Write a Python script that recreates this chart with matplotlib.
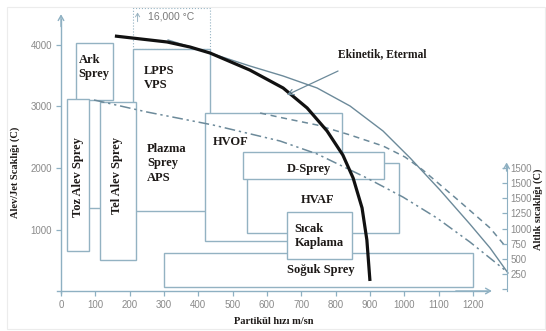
import matplotlib.pyplot as plt
from matplotlib.patches import Rectangle

# process windows: particle velocity range (m/sn) and flame/jet temperature range (C)
procs = ["plazma_ust", "plazma", "ark", "toz", "tel", "hvof", "hvaf", "dsprey", "soguk", "sicak"]
vel_lo = [210, 210, 45, 17, 114, 420, 543, 531, 301, 657]
vel_hi = [434, 434, 151, 82, 218, 819, 985, 941, 1201, 849]
temp_lo = [3935, 1300, 3100, 655, 504, 813, 943, 1816, 60, 515]
temp_hi = [4597, 3935, 4033, 3117, 3078, 2889, 2076, 2255, 613, 1289]

# curves
thick_v = [157, 309, 376, 434, 550, 647, 717, 775, 821, 851, 877, 891, 900]
thick_t = [4146, 4049, 3967, 3870, 3593, 3301, 2976, 2602, 2211, 1837, 1350, 829, 163]
ener_v = [312, 434, 550, 647, 746, 842, 938, 1017, 1104, 1191, 1250, 1302]
ener_t = [4081, 3870, 3659, 3496, 3301, 3008, 2602, 2163, 1642, 1089, 699, 293]
dash_v = [580, 647, 746, 842, 938, 1002, 1054, 1153, 1250, 1296]
dash_t = [2894, 2813, 2699, 2537, 2358, 2179, 1967, 1496, 1024, 715]
dd_v = [96, 250, 443, 638, 746, 891, 996, 1095, 1191, 1293]
dd_t = [3106, 2911, 2699, 2439, 2228, 1837, 1528, 1187, 797, 341]

x_ticks = list(range(0, 1300, 100))
y_ticks = [1000, 2000, 3000, 4000]
sub_ticks = [0, 250, 500, 750, 1000, 1250, 1500, 1750, 2000]
sub_labels = ["", "250", "500", "750", "1000", "1250", "1500", "1500", "1500"]

axis_col = "#8eb0c2"
box_col = "#93b2c2"
line_col = "#6c8a9a"
tick_col = "#8a8a8a"
txt_col = "#1e1a18"
serif = "Liberation Serif"
sans = "Liberation Sans"

fig = plt.figure(figsize=(5.46, 3.31), dpi=100)
ax = fig.add_axes([0, 0, 1, 1])
ax.set_xlim(-177.7, 1412.8)
ax.set_ylim(-650.4, 4731.7)
ax.patch.set_alpha(0)

# faint image frame
fig.patches.append(Rectangle((7 / 546, 2 / 331), 538 / 546, 322 / 331, transform=fig.transFigure,
                             fill=False, ec="#ececec", lw=0.8))

for s in ["top", "right"]:
    ax.spines[s].set_visible(False)
ax.spines["left"].set_position(("data", 0))
ax.spines["bottom"].set_position(("data", 0))
ax.spines["left"].set_bounds(-40, 4420)
ax.spines["bottom"].set_bounds(-12, 1240)
for s in ["left", "bottom"]:
    ax.spines[s].set_color(axis_col)
    ax.spines[s].set_linewidth(1.0)
ax.set_xticks(x_ticks)
ax.set_yticks(y_ticks)
ax.tick_params(direction="out", length=3.5, width=0.9, color=axis_col,
               labelcolor=tick_col, labelsize=7, pad=3)
for lab in ax.get_xticklabels() + ax.get_yticklabels():
    lab.set_family(sans)

arrow = dict(arrowstyle="->,head_length=0.35,head_width=0.2", color=axis_col, lw=1.0, shrinkA=0, shrinkB=0)
ax.annotate("", xy=(0, 4500), xytext=(0, 4300), arrowprops=arrow)
ax.annotate("", xy=(1255, 0), xytext=(1150, 0), arrowprops=arrow)
ax.annotate("", xy=(1298, 2090), xytext=(1298, 1950), arrowprops=arrow)

# substrate temperature axis on the right
ax2 = ax.twinx()
ax2.set_ylim(-694, 4777)
for s in ["top", "left", "bottom"]:
    ax2.spines[s].set_visible(False)
ax2.spines["right"].set_position(("data", 1298))
ax2.spines["right"].set_bounds(-40, 2050)
ax2.spines["right"].set_color(axis_col)
ax2.set_yticks(sub_ticks)
ax2.set_yticklabels(sub_labels, family=sans)
ax2.tick_params(direction="in", length=3.5, width=0.9, color=axis_col,
                labelcolor=tick_col, labelsize=7, pad=3)
ax2.patch.set_alpha(0)

# process boxes
for i, name in enumerate(procs):
    dotted = name == "plazma_ust"
    ax.add_patch(Rectangle((vel_lo[i], temp_lo[i]), vel_hi[i] - vel_lo[i], temp_hi[i] - temp_lo[i],
                           fc="white" if not dotted else "none", ec=box_col,
                           lw=0.8 if dotted else 1.0, ls=":" if dotted else "-", zorder=2 + i * 0.1))

# small connector between the two flame spray boxes
ax.plot([82, 114], [1345, 1345], color=box_col, lw=1.0, zorder=1.9)

# curves
ax.plot(ener_v, ener_t, color=line_col, lw=1.0, zorder=4, solid_joinstyle="round")
ax.plot(dash_v, dash_t, color=line_col, lw=1.1, ls=(0, (4, 3)), zorder=4)
ax.plot(dd_v, dd_t, color=line_col, lw=1.1, ls=(0, (7, 2.5, 1.5, 2.5, 1.5, 2.5)), zorder=4)
ax.plot(thick_v, thick_t, color="#111111", lw=2.3, solid_capstyle="butt",
        solid_joinstyle="round", zorder=5)

# labels
bold = dict(family=serif, fontweight="bold", color=txt_col, fontsize=9, zorder=6)
ax.text(51, 3647, "Ark\nSprey", ha="left", va="center", linespacing=1.25, **bold)
ax.text(240, 3463, "LPPS\nVPS", ha="left", va="center", linespacing=1.2, **bold)
ax.text(250, 2076, "Plazma\nSprey\nAPS", ha="left", va="center", linespacing=1.25, **bold)
ax.text(49, 1850, "Toz Alev Sprey", ha="center", va="center", rotation=90, **bold)
ax.text(163, 1886, "Tel Alev Sprey", ha="center", va="center", rotation=90, **bold)
ax.text(443, 2423, "HVOF", ha="left", va="center", **bold)
ax.text(723, 1979, "D-Sprey", ha="center", va="center", **bold)
ax.text(747, 1480, "HVAF", ha="center", va="center", **bold)
ax.text(680, 894, "Sıcak\nKaplama", ha="left", va="center", linespacing=1.2, **bold)
ax.text(757, 341, "Soğuk Sprey", ha="center", va="center", **bold)
ax.text(935, 3849, "Ekinetik, Etermal", ha="center", va="center",
        family=serif, fontweight="bold", color=txt_col, fontsize=8.3)
ax.annotate("", xy=(658, 3187), xytext=(807, 3577),
            arrowprops=dict(arrowstyle="->,head_length=0.4,head_width=0.2", color=line_col, lw=0.9,
                            shrinkA=0, shrinkB=0), zorder=6)

ax.annotate("", xy=(223, 4530), xytext=(223, 4380),
            arrowprops=dict(arrowstyle="->,head_length=0.25,head_width=0.15", color="#9ab4c2", lw=0.7,
                            shrinkA=0, shrinkB=0))
ax.text(320, 4460, "16,000 °C", ha="center", va="center", family=sans, fontsize=7.5, color="#7a7a7a")

ax.text(620, -500, "Partikül hızı m/sn", ha="center", va="center",
        family=serif, fontweight="bold", fontsize=7.5, color=txt_col)
ax.text(-134, 1935, "Alev/Jet Scaklığı (C)", ha="center", va="center", rotation=90,
        family=serif, fontweight="bold", fontsize=7.5, color=txt_col)
ax.text(1389, 1333, "Altlık sıcaklığı (C)", ha="center", va="center", rotation=90,
        family=serif, fontweight="bold", fontsize=7.5, color=txt_col)

fig.savefig("out.png", dpi=100)
